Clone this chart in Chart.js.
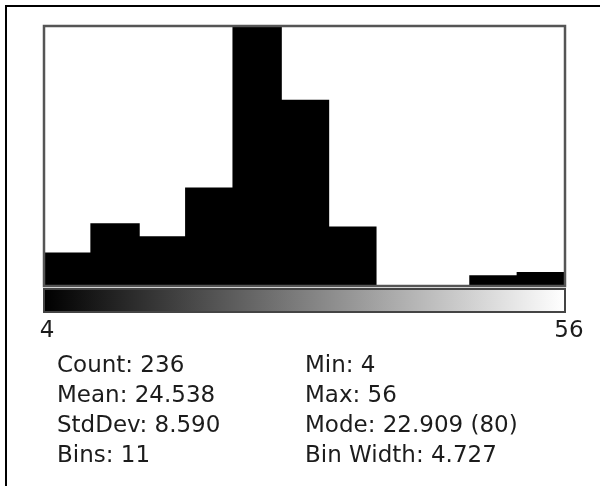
<!DOCTYPE html>
<html>
<head>
<meta charset="utf-8">
<script src="https://cdn.jsdelivr.net/npm/chart.js@4"></script>
<style>
  html, body { margin: 0; padding: 0; background: #fff; }
  canvas { display: block; }
</style>
</head>
<body>
<canvas id="histChart" width="600" height="486"></canvas>
<script>
// histogram bins (start value of each bin) and counts
const binStarts = ["4.000", "8.727", "13.455", "18.182", "22.909", "27.636", "32.364", "37.091", "41.818", "46.545", "51.273"];
const binCounts = [10, 19, 15, 30, 80, 57, 18, 0, 0, 3, 4];
const rangeLabels = ["4", "56"];
const statsLeft = ["Count: 236", "Mean: 24.538", "StdDev: 8.590", "Bins: 11"];
const statsRight = ["Min: 4", "Max: 56", "Mode: 22.909 (80)", "Bin Width: 4.727"];

const FONT = "23px 'DejaVu Sans'";

// frame, grey ramp, range labels and stats text, ImageJ style
const decorPlugin = {
  id: "decor",
  afterDraw(chart) {
    const ctx = chart.ctx;
    const a = chart.chartArea;
    ctx.save();

    // outer window border
    ctx.strokeStyle = "#000";
    ctx.lineWidth = 2;
    ctx.beginPath();
    ctx.moveTo(6, 486);
    ctx.lineTo(6, 6);
    ctx.lineTo(600, 6);
    ctx.stroke();

    // plot frame
    ctx.strokeStyle = "#555";
    ctx.lineWidth = 2.5;
    ctx.strokeRect(a.left, a.top, a.right - a.left, a.bottom - a.top);

    // grey ramp
    const rampTop = a.bottom + 3;
    const rampH = 23;
    const grad = ctx.createLinearGradient(a.left, 0, a.right, 0);
    grad.addColorStop(0, "#000");
    grad.addColorStop(1, "#fff");
    ctx.fillStyle = grad;
    ctx.fillRect(a.left, rampTop, a.right - a.left, rampH);
    ctx.strokeStyle = "#444";
    ctx.lineWidth = 2;
    ctx.strokeRect(a.left, rampTop, a.right - a.left, rampH);

    // range labels under the ramp
    ctx.fillStyle = "#1c1c1c";
    ctx.font = FONT;
    ctx.textBaseline = "alphabetic";
    ctx.textAlign = "center";
    ctx.fillText(rangeLabels[0], a.left + 3, 337);
    ctx.fillText(rangeLabels[1], a.right + 4, 337);

    // stats
    ctx.textAlign = "left";
    statsLeft.forEach((t, i) => ctx.fillText(t, 57, 372 + i * 30));
    statsRight.forEach((t, i) => ctx.fillText(t, 305, 372 + i * 30));

    ctx.restore();
  },
};

const canvas = document.getElementById("histChart");
new Chart(canvas.getContext("2d"), {
  type: "bar",
  data: {
    labels: binStarts,
    datasets: [
      {
        data: binCounts,
        backgroundColor: "#000",
        borderWidth: 0,
        inflateAmount: 1,
        barPercentage: 1,
        categoryPercentage: 1,
      },
    ],
  },
  options: {
    responsive: false,
    animation: false,
    layout: { padding: { left: 44, right: 35, top: 26, bottom: 200 } },
    scales: {
      x: { display: false },
      y: { display: false, min: 0, max: 80 },
    },
    plugins: {
      legend: { display: false },
      tooltip: { enabled: false },
    },
  },
  plugins: [decorPlugin],
});
</script>
</body>
</html>
